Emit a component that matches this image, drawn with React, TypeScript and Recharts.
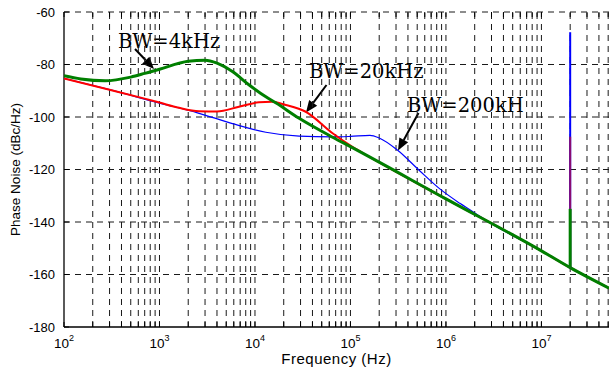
import React from 'react';
import { LineChart, Line, XAxis, YAxis, ReferenceLine, Customized } from 'recharts';

// ---- data (frequency in Hz, phase noise in dBc/Hz) ----
const greenFreq = [100, 150, 270, 500, 700, 1000, 2000, 3000, 4000, 5800, 8700, 13000, 16500, 29000, 65000, 100000, 1e6, 1e7, 2e7, 5.1e7];
const greenNoise = [-84.3, -85.5, -86.2, -84.8, -83.4, -81.8, -78.8, -78.4, -79.5, -82.7, -87.8, -92.3, -94.6, -100.5, -107.7, -111.3, -131.2, -151.0, -157.4, -165.2];

const redFreq = [100, 300, 700, 1000, 1600, 2600, 4000, 6800, 11000, 15000, 21000, 34000, 65000, 100000, 140000, 1e6, 1e7, 2e7, 5.1e7];
const redNoise = [-85.3, -89.6, -93.0, -94.5, -96.5, -97.8, -97.9, -96.1, -94.4, -94.2, -95.4, -98.0, -106.2, -110.9, -114.1, -131.2, -151.0, -157.4, -165.2];

const blueFreq = [100, 300, 1000, 2500, 5800, 13000, 29000, 65000, 100000, 160000, 200000, 310000, 520000, 850000, 1.4e6, 2.2e6, 3.2e6, 1e7, 2e7, 5.1e7];
const blueNoise = [-85.3, -89.6, -94.7, -98.4, -102.5, -105.8, -107.3, -107.6, -107.4, -107.0, -108.0, -112.6, -120.2, -127.2, -132.9, -137.5, -141.2, -151.0, -157.4, -165.2];

// spur at 20 MHz
const spurFreq = 2e7;
const spurBase = -157.4;
const spurPeakBlue = -67.7;
const spurPeakRed = -107.5;
const spurPeakGreen = -135;

const xDomain = [100, 5.1e7];
const yDomain = [-180, -60];
const majorTicks = [100, 1000, 10000, 100000, 1000000, 10000000];
const minorMultipliers = [1, 2, 3, 4, 5, 6, 7, 8, 9];
const yTicks = [-180, -160, -140, -120, -100, -80, -60];

const annotations = [
  { text: 'BW=4kHz', tx: 118, ty: 47.5, ax1: 135, ay1: 49, ax2: 154, ay2: 69 },
  { text: 'BW=20kHz', tx: 309, ty: 77.5, ax1: 326.5, ay1: 85, ax2: 306, ay2: 112.5 },
  { text: 'BW=200kH', tx: 407, ty: 111.5, ax1: 418.5, ay1: 113, ax2: 398, ay2: 150.5 },
];

const toRows = (fs: number[], vs: number[]) => fs.map((f, i) => ({ f, v: vs[i] }));
const blueData = toRows(blueFreq, blueNoise);
const redData = toRows(redFreq, redNoise);
const greenData = toRows(greenFreq, greenNoise);
const spurRows = (peak: number) => [{ f: spurFreq, v: spurBase }, { f: spurFreq, v: peak }];
const minorTicks = majorTicks
  .flatMap((d) => minorMultipliers.map((m) => m * d))
  .filter((f) => f <= xDomain[1]);

// inward tick-mark lengths in axis units (about 5 px)
const xTickLen = 1.9; // dB
const yTickFactor = 1.128; // frequency ratio

const SANS = '"Liberation Sans", Arial, Helvetica, sans-serif';
const GRID = '#1a1a1a';
const DASH = '6 5';

const PowTick = (props: any) => {
  const { x, y, payload } = props;
  const exp = Math.round(Math.log10(payload.value));
  return (
    <text x={x} y={y + 20.5} textAnchor="middle" fontFamily={SANS} fontSize={13.5} fill="#000">
      <tspan>10</tspan>
      <tspan dy={-7} fontSize={9}>{exp}</tspan>
    </text>
  );
};

const YTick = (props: any) => {
  const { x, y, payload } = props;
  return (
    <text x={x} y={y + 4.5} textAnchor="end" fontFamily={SANS} fontSize={13} fill="#000">
      {payload.value}
    </text>
  );
};

const Arrow = ({ x1, y1, x2, y2 }: any) => {
  const dx = x2 - x1;
  const dy = y2 - y1;
  const len = Math.sqrt(dx * dx + dy * dy);
  const ux = dx / len;
  const uy = dy / len;
  const hl = 12;
  const hw = 5;
  const bx = x2 - ux * hl;
  const by = y2 - uy * hl;
  const pts = `${x2},${y2} ${bx - uy * hw},${by + ux * hw} ${bx + uy * hw},${by - ux * hw}`;
  return (
    <g>
      <line x1={x1} y1={y1} x2={bx} y2={by} stroke="#000" strokeWidth={2} />
      <polygon points={pts} fill="#000" />
    </g>
  );
};

const Overlay = () => (
  <g>
    {annotations.map((a) => (
      <g key={a.text}>
        <text x={a.tx} y={a.ty} fontFamily='"DejaVu Serif", "Liberation Serif", serif' fontSize={19.5} fill="#000">
          {a.text}
        </text>
        <Arrow x1={a.ax1} y1={a.ay1} x2={a.ax2} y2={a.ay2} />
      </g>
    ))}
    <text x={19.5} y={169.5} transform="rotate(-90 19.5 169.5)" textAnchor="middle" fontFamily={SANS} fontSize={13.5} fill="#000">
      Phase Noise (dBc/Hz)
    </text>
    <text x={336.5} y={363.5} textAnchor="middle" fontFamily={SANS} fontSize={15} letterSpacing={0.5} fill="#000">
      Frequency (Hz)
    </text>
  </g>
);

export default function App() {
  return (
    <div style={{ position: 'absolute', left: 0, top: 0, width: 609, height: 370, background: '#fff' }}>
      <LineChart width={609} height={370} margin={{ top: 12, right: 0, bottom: 0, left: 0 }}>
        <XAxis
          dataKey="f"
          type="number"
          scale="log"
          domain={xDomain}
          allowDataOverflow
          ticks={majorTicks}
          tick={<PowTick />}
          tickLine={false}
          tickSize={0}
          tickMargin={0}
          height={43}
          axisLine={false}
        />
        <YAxis
          type="number"
          domain={yDomain}
          ticks={yTicks}
          width={64}
          tickLine={false}
          tickSize={0}
          tickMargin={9}
          tick={<YTick />}
          axisLine={false}
        />
        {/* horizontal dashed grid */}
        {yTicks.slice(1).map((v) => (
          <ReferenceLine key={`h${v}`} y={v} stroke={GRID} strokeDasharray={DASH} strokeWidth={1} />
        ))}
        {/* vertical dashed grid at every decade sub-multiple */}
        {minorTicks.slice(1).map((f) => (
          <ReferenceLine key={`v${f}`} x={f} stroke={GRID} strokeDasharray={DASH} strokeWidth={1} />
        ))}
        {/* inward tick marks, bottom & top */}
        {minorTicks.map((f) => (
          <ReferenceLine key={`tb${f}`} segment={[{ x: f, y: yDomain[0] }, { x: f, y: yDomain[0] + xTickLen }]} stroke="#000" strokeWidth={1} />
        ))}
        {minorTicks.map((f) => (
          <ReferenceLine key={`tt${f}`} segment={[{ x: f, y: yDomain[1] }, { x: f, y: yDomain[1] - xTickLen }]} stroke="#000" strokeWidth={1} />
        ))}
        {/* inward tick marks, left */}
        {yTicks.map((v) => (
          <ReferenceLine key={`tl${v}`} segment={[{ x: xDomain[0], y: v }, { x: xDomain[0] * yTickFactor, y: v }]} stroke="#000" strokeWidth={1} />
        ))}
        {/* axis lines */}
        <ReferenceLine x={xDomain[0]} stroke="#000" strokeWidth={1.3} />
        <ReferenceLine y={yDomain[0]} stroke="#000" strokeWidth={1.3} />
        <Line data={blueData} dataKey="v" type="monotone" stroke="#0000ff" strokeWidth={1.2} dot={false} isAnimationActive={false} />
        <Line data={redData} dataKey="v" type="monotone" stroke="#ff0000" strokeWidth={2} dot={false} isAnimationActive={false} />
        <Line data={greenData} dataKey="v" type="monotone" stroke="#007f00" strokeWidth={3} dot={false} isAnimationActive={false} />
        <Line data={spurRows(spurPeakBlue)} dataKey="v" type="linear" stroke="#0000ff" strokeWidth={2} dot={false} isAnimationActive={false} />
        <Line data={spurRows(spurPeakRed)} dataKey="v" type="linear" stroke="#8a0a70" strokeWidth={2} dot={false} isAnimationActive={false} />
        <Line data={spurRows(spurPeakGreen)} dataKey="v" type="linear" stroke="#007f00" strokeWidth={3} dot={false} isAnimationActive={false} />
        <Customized component={Overlay} />
      </LineChart>
    </div>
  );
}
